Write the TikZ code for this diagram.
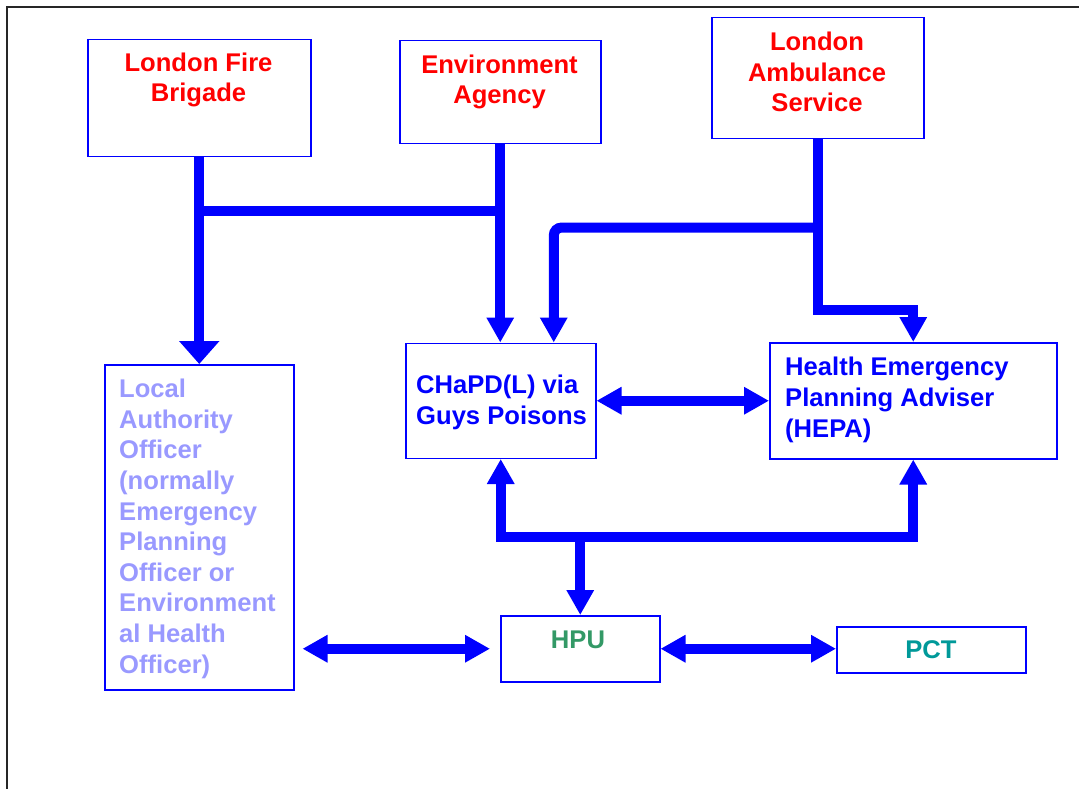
\documentclass[tikz,border=0pt]{standalone}
\usepackage{fontspec}
\setmainfont{Liberation Sans}
\usetikzlibrary{arrows.meta,calc}
\definecolor{cblue}{RGB}{0,0,255}
\definecolor{cred}{RGB}{255,0,0}
\definecolor{clav}{RGB}{153,153,255}
\definecolor{cgreen}{RGB}{51,153,102}
\definecolor{cteal}{RGB}{0,153,153}
\begin{document}
\begin{tikzpicture}[x=1pt,y=-1pt,
  box/.style={draw=cblue, line width=1.5pt, inner sep=0pt, anchor=north west},
  lbl/.style={font=\fontsize{25.6}{30.9}\selectfont\bfseries, inner sep=0pt},
  conn/.style={draw=cblue, line width=10pt},
  >={Triangle[width=26pt,length=25pt]}]
\useasboundingbox (0,0) rectangle (1079,789);
\draw[line width=2pt, black!85] (7,789) -- (7,7) -- (1079,7);

% boxes (text nodes anchored at the baseline of their last line)
\node[box, minimum width=223pt, minimum height=117pt] (lfb) at (87,39) {};
\node[lbl, text=cred, align=center, anchor=base] (lfbt) at (198.5,102) {London Fire\\Brigade};
\node[box, minimum width=201pt, minimum height=103pt] (ea) at (399,40) {};
\node[lbl, text=cred, align=center, anchor=base] (eat) at (499.5,104) {Environment\\Agency};
\node[box, minimum width=212pt, minimum height=121pt] (las) at (711,17) {};
\node[lbl, text=cred, align=center, anchor=base] (last) at (817,112) {London\\Ambulance\\Service};
\node[box, minimum width=189pt, minimum height=325pt] (lao) at (104,364) {};
\node[lbl, font=\fontsize{25.6}{30.6}\selectfont\bfseries, text=clav, align=left, anchor=base west] (laot) at (119,673)
  {Local\\Authority\\Officer\\(normally\\Emergency\\Planning\\Officer or\\Environment\\al Health\\Officer)};
\node[box, minimum width=190pt, minimum height=115pt] (chapd) at (405,342.5) {};
\node[lbl, text=cblue, align=left, anchor=base west] (chapdt) at (416,424) {CHaPD(L) via\\Guys Poisons};
\node[box, minimum width=287pt, minimum height=116pt] (hepa) at (769,342) {};
\node[lbl, text=cblue, align=left, anchor=base west] (hepat) at (785,437) {Health Emergency\\Planning Adviser\\(HEPA)};
\node[box, minimum width=159pt, minimum height=66pt] (hpu) at (500,615) {};
\node[lbl, text=cgreen, anchor=base] (hput) at (578,648) {HPU};
\node[box, minimum width=189pt, minimum height=46pt] (pct) at (836,626) {};
\node[lbl, text=cteal, anchor=base] (pctt) at (931,658) {PCT};

% connectors
\draw[conn, -{Triangle[width=39pt,length=23pt]}] (lfb.south) -- (lao.north);
\draw[conn] (lfb.south |- 0,211) -- (ea.south |- 0,211);
\draw[conn, ->] (ea.south) -- (ea.south |- chapd.north);
\draw[conn, ->] (las.south) -- (las.south |- 0,310) -| (hepa.north);
\draw[conn, ->, rounded corners=8pt] (las.south |- 0,227.5) -| ($(chapd.north)+(53,0)$);
\draw[conn, <->] (chapd.east) -- (hepa.west);
\draw[conn, <->] (chapd.south) -- (chapd.south |- 0,536.5) -| (hepa.south);
\draw[conn, ->] (hpu.north |- 0,536.5) -- (hpu.north);
\draw[conn, <->] ($(lao.east |- hpu.west)+(8,0)$) -- ($(hpu.west)+(-10,0)$);
\draw[conn, <->] (hpu.east) -- (pct.west |- hpu.east);
\end{tikzpicture}
\end{document}
